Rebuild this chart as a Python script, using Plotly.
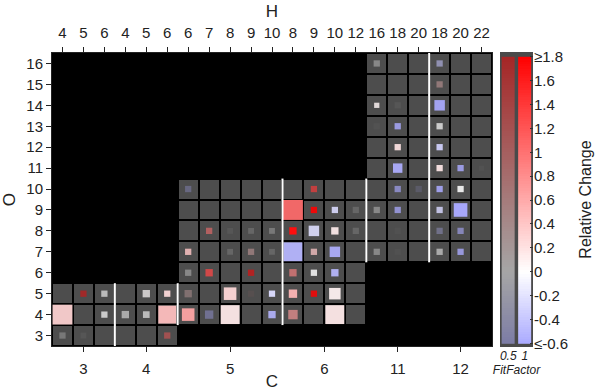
import numpy as np
import plotly.graph_objects as go

# 分组: C 及其对应的 H 列, 每组有数据的 O 范围
C_vals = [3, 4, 5, 6, 11, 12]
H_vals = [[4, 5, 6], [4, 5, 6], [6, 7, 8, 9, 10], [8, 9, 10, 12], [16, 18, 20], [18, 20, 22]]
O_lo = [3, 3, 4, 4, 7, 7]
O_hi = [5, 5, 10, 10, 16, 16]
O_ticks = list(range(3, 17))

# 每个点: C, H, O, Relative Change, FitFactor, 相对大小
pt_C = [3, 3, 4,
        3, 3, 4, 4, 4, 5, 5, 5, 5, 6, 6,
        3, 3, 4, 4, 5, 5, 5, 5, 6, 6, 6,
        5, 5, 5, 6, 6, 6,
        5, 5, 5, 5, 6, 6, 6, 11, 11, 12, 12,
        5, 5, 5, 5, 6, 6, 6, 6, 11, 12, 12,
        6, 6, 6, 6, 11, 11, 12, 12,
        5, 6, 11, 11, 12, 12,
        11, 12, 12, 12,
        11, 12,
        11, 11, 12,
        11, 11, 12,
        12,
        11, 12]
pt_H = [4, 5, 6,
        4, 6, 4, 5, 6, 6, 7, 8, 10, 8, 10,
        5, 6, 5, 6, 6, 8, 9, 10, 8, 9, 10,
        6, 7, 9, 8, 9, 10,
        6, 8, 9, 10, 8, 9, 10, 16, 18, 18, 20,
        7, 8, 9, 10, 8, 9, 10, 12, 18, 18, 20,
        8, 9, 10, 12, 16, 18, 18, 20,
        6, 9, 18, 20, 18, 20,
        18, 18, 20, 22,
        18, 18,
        16, 18, 18,
        16, 18, 18,
        18,
        16, 18]
pt_O = [3] * 3 + [4] * 11 + [5] * 11 + [6] * 6 + [7] * 11 + [8] * 11 + [9] * 8 \
       + [10] * 6 + [11] * 4 + [12] * 2 + [13] * 3 + [14] * 3 + [15] * 1 + [16] * 2
pt_rel = [0, 0, 1.2,
          0.31, 0, 0, 0, 0.45, 0.63, -0.6, 0.15, -0.53, 0.71, 0.15,
          1.8, 0, 0.03, 0.25, 0.4, 0.27, 1.0, -0.25, 0.51, 1.8, 0.09,
          0, 1.3, 1.8, 0.88, 0, -0.5,
          0.41, 0, 0.46, 0, -0.51, 0.39, -0.56, 0, 0, 0, -0.6,
          1.02, 0, 0, 0, 1.7, -0.23, 0.13, 0, 0, -0.5, -0.6,
          1.05, 1.8, -0.26, 0, 0, -0.6, -0.28, -0.6,
          -0.6, 1.4, -0.6, -0.6, -0.6, 0,
          -0.57, 0.16, -0.6, 0,
          0.19, -0.31,
          0, -0.6, 0,
          0.07, 0, -0.6,
          0.46,
          0, -0.41]
pt_fit = [0.24, 0.05, 0.47,
          0.92, 0.71, 0.52, 0.62, 0.94, 0.94, 0.38, 0.94, 0.9, 0.65, 0.94,
          0.47, 0.62, 0.71, 0.92, 0.29, 0.94, 0.05, 0.96, 0.94, 0.83, 0.94,
          0.33, 0.74, 0.56, 0.65, 0.83, 0.92,
          0.83, 0.14, 0.38, 0.14, 0.94, 0.74, 0.92, 0.33, 0.02, 0.52, 0.8,
          0.56, 0.05, 0.14, 0.24, 1.0, 0.9, 0.92, 0.14, 0.02, 0.33, 0.6,
          0.92, 0.9, 0.9, 0.14, 0.33, 0.74, 0.83, 0.97,
          0.29, 0.65, 0.65, 0.15, 0.87, 0.87,
          0.94, 0.92, 0.83, 0.03,
          0.92, 0.92,
          0.03, 0.83, 0.71,
          0.83, 0.05, 0.92,
          0.38,
          0.33, 0.56]
pt_size = [0.3, 0.28, 0.3,
           0.95, 0.3, 0.35, 0.32, 0.85, 0.6, 0.4, 0.9, 0.35, 0.45, 0.9,
           0.3, 0.3, 0.35, 0.3, 0.35, 0.6, 0.3, 0.3, 0.4, 0.3, 0.55,
           0.3, 0.35, 0.3, 0.35, 0.3, 0.35,
           0.3, 0.28, 0.3, 0.28, 0.9, 0.3, 0.5, 0.3, 0.3, 0.3, 0.3,
           0.3, 0.28, 0.28, 0.28, 0.35, 0.5, 0.35, 0.3, 0.3, 0.3, 0.3,
           0.95, 0.3, 0.3, 0.3, 0.3, 0.3, 0.3, 0.65,
           0.3, 0.3, 0.3, 0.3, 0.3, 0.3,
           0.45, 0.3, 0.3, 0.25,
           0.3, 0.3,
           0.3, 0.3, 0.3,
           0.25, 0.3, 0.5,
           0.3,
           0.3, 0.3]

rc_ticks = [-0.6, -0.4, -0.2, 0, 0.2, 0.4, 0.6, 0.8, 1, 1.2, 1.4, 1.6, 1.8]
rc_labels = ["≤-0.6", "-0.4", "-0.2", "0", "0.2", "0.4", "0.6", "0.8", "1", "1.2", "1.4", "1.6", "≥1.8"]
fit_ticks = [0.5, 1]

CELL_GRAY = 77
FONT = "Liberation Sans, Arial, sans-serif"


def cmap(r):
    if r >= 0:
        t = min(r / 1.8, 1)
        return np.array([255, 255 * (1 - t), 255 * (1 - t)])
    t = min(-r / 0.6, 1)
    return np.array([255 - 85 * t, 255 - 85 * t, 255])


def blend(r, f):
    c = f * cmap(r) + (1 - f) * CELL_GRAY
    return "rgb(%d,%d,%d)" % tuple(int(v) for v in np.round(c))


# 列位置
col_of = {}
centers = []
col_labels = []
k = 0
for c, hs in zip(C_vals, H_vals):
    centers.append(k + (len(hs) - 1) / 2)
    for h in hs:
        col_of[(c, h)] = k
        col_labels.append(str(h))
        k += 1
ncol = k

# 灰色格子
z = [[None] * ncol for _ in O_ticks]
for c, hs, lo, hi in zip(C_vals, H_vals, O_lo, O_hi):
    for h in hs:
        for o in range(lo, hi + 1):
            z[o - 3][col_of[(c, h)]] = 1

fig = go.Figure()
fig.add_trace(go.Heatmap(z=z, x=list(range(ncol)), y=O_ticks, showscale=False,
                         colorscale=[[0, "#4d4d4d"], [1, "#4d4d4d"]], zmin=0, zmax=1,
                         xgap=2, ygap=2, hoverinfo="skip"))

# 组之间的白线 (画在顶部 x2 轴上, 让它显示出来)
lx, ly = [], []
for i in range(len(C_vals) - 1):
    xb = col_of[(C_vals[i], H_vals[i][-1])] + 0.5
    y0 = max(O_lo[i], O_lo[i + 1]) - 0.5
    y1 = min(O_hi[i], O_hi[i + 1]) + 0.5
    lx += [xb, xb, None]
    ly += [y0, y1, None]
fig.add_trace(go.Scatter(x=lx, y=ly, mode="lines", line=dict(color="white", width=2),
                         xaxis="x2", hoverinfo="skip"))

cell_px = 440 / ncol
px = [col_of[(c, h)] for c, h in zip(pt_C, pt_H)]
fig.add_trace(go.Scatter(
    x=px, y=pt_O, mode="markers",
    marker=dict(symbol="square", size=[s * cell_px for s in pt_size], opacity=1,
                color=[blend(r, f) for r, f in zip(pt_rel, pt_fit)], line=dict(width=0)),
    hoverinfo="skip"))

# 双列色条
fig.add_trace(go.Heatmap(z=[[0]], x0=0.75, dx=1.0, y0=0.605, dy=2.47, showscale=False,
                         colorscale=[[0, "#4a4a4a"], [1, "#4a4a4a"]],
                         xaxis="x3", yaxis="y3", hoverinfo="skip"))
edges = np.linspace(-0.6, 1.8, 121)
mids = (edges[:-1] + edges[1:]) / 2
for f, x0 in zip(fit_ticks, [0.3, 0.8]):
    cs = [[0, blend(-0.6, f)], [0.25, blend(0, f)], [1, blend(1.8, f)]]
    fig.add_trace(go.Heatmap(z=[[m] for m in mids], x=[x0, x0 + 0.4], y=edges,
                             colorscale=cs, zmin=-0.6, zmax=1.8, showscale=False,
                             xaxis="x3", yaxis="y3", hoverinfo="skip"))

tickfont = dict(family=FONT, size=15, color="#222")
fig.update_layout(
    width=600, height=391, showlegend=False,
    margin=dict(l=52, r=20, t=52, b=44, autoexpand=False),
    paper_bgcolor="white", plot_bgcolor="black",
    font=dict(family=FONT, color="#222"),
    xaxis=dict(domain=[0, 440 / 528], range=[-0.5, ncol - 0.5], tickvals=centers,
               ticktext=[str(c) for c in C_vals], ticks="outside", ticklen=5,
               tickcolor="#222", tickfont=tickfont, ticklabelstandoff=4,
               showline=True, mirror=True, linecolor="#222", linewidth=1,
               showgrid=False, zeroline=False, automargin=False,
               title=dict(text="C", font=dict(family=FONT, size=17), standoff=6)),
    xaxis2=dict(overlaying="x", side="top", anchor="y", domain=[0, 440 / 528],
                range=[-0.5, ncol - 0.5], tickvals=list(range(ncol)), ticktext=col_labels,
                ticks="outside", ticklen=5, tickcolor="#222", tickfont=tickfont,
                ticklabelstandoff=3, showgrid=False, zeroline=False, automargin=False,
                title=dict(text="H", font=dict(family=FONT, size=17), standoff=2)),
    yaxis=dict(domain=[1 / 295, 294 / 295], range=[2.5, 16.5], tickvals=O_ticks,
               ticks="outside", ticklen=5, tickcolor="#222", tickfont=tickfont,
               showline=True, mirror=True, linecolor="#222", linewidth=1,
               showgrid=False, zeroline=False, automargin=False,
               title=dict(text="O", font=dict(family=FONT, size=17), standoff=6)),
    xaxis3=dict(domain=[448 / 528, 481 / 528], anchor="y3", range=[0.25, 1.25],
                tickvals=fit_ticks, ticktext=["<i>0.5</i>", "<i>1</i>"],
                tickfont=dict(family=FONT, size=12, color="#222"), ticks="",
                showgrid=False, zeroline=False, ticklabelstandoff=0, automargin=False,
                title=dict(text="<i>FitFactor</i>", font=dict(family=FONT, size=12),
                           standoff=0)),
    yaxis3=dict(domain=[0, 1], anchor="x3", side="right", range=[-0.63, 1.84],
                tickvals=rc_ticks, ticktext=rc_labels, ticks="inside", ticklen=3,
                tickcolor="#333", tickfont=tickfont, showgrid=False, zeroline=False,
                automargin=False,
                title=dict(text="Relative Change", font=dict(family=FONT, size=16),
                           standoff=12)),
)

# 去掉页面默认的 8px 边距, 不显示工具栏
fig.write_html("out.html", config={"displayModeBar": False},
               post_script="document.body.style.margin='0';")
